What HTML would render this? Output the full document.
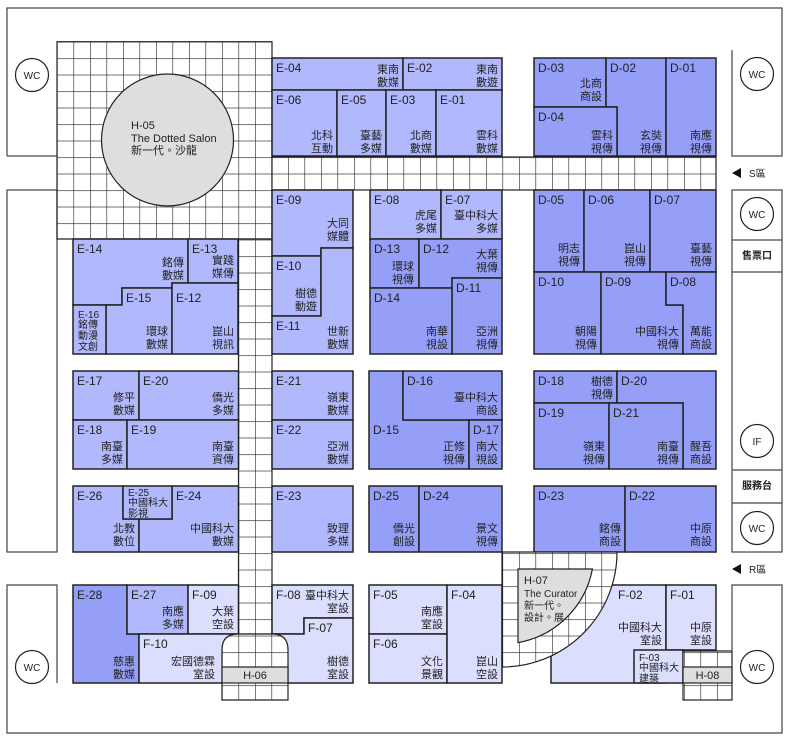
<!DOCTYPE html>
<html><head><meta charset="utf-8"><style>
html,body{margin:0;padding:0;background:#fff;}
svg{display:block;font-family:"Liberation Sans","Noto Sans CJK TC",sans-serif;}
.l{font-size:12px;fill:#222;}
.n{font-size:11px;fill:#222;text-anchor:end;}
.s{font-size:10px;fill:#222;}
.c{font-size:10px;fill:#222;text-anchor:middle;}
.E{fill:#b1b9fc;stroke:#222;stroke-width:1.5;}
.D{fill:#959ff7;stroke:#222;stroke-width:1.5;}
.F{fill:#dbdefd;stroke:#222;stroke-width:1.5;}
.w{fill:none;stroke:#444;stroke-width:1.2;}
</style></head><body>
<svg width="790" height="743" viewBox="0 0 790 743">
<defs>
<pattern id="g" patternUnits="userSpaceOnUse" x="57" y="41.7" width="16.5" height="16.5">
<rect width="16.5" height="16.5" fill="#fff"/>
<path d="M0,0H16.5M0,0V16.5" stroke="#222" stroke-width="1.2"/>
</pattern>
</defs>
<rect width="790" height="743" fill="#fff"/>
<path class="w" d="M7,156V8H782V156H732V50"/>
<rect class="w" x="7" y="190" width="50" height="362"/>
<path class="w" d="M57,683V585H7V733H782V585H732V651"/>
<rect class="w" x="732" y="190" width="50" height="362"/>
<path class="w" d="M732,240H782M732,272H782M732,470H782M732,503H782"/>
<path class="w" d="M7,156H57"/>
<path d="M57,41.7H272V190H272V239H57Z" fill="url(#g)" stroke="#222" stroke-width="1.2"/>
<rect x="272" y="157" width="444" height="33" fill="url(#g)" stroke="#222" stroke-width="1.2"/>
<rect x="238.5" y="239" width="33.5" height="395" fill="url(#g)" stroke="#222" stroke-width="1.2"/>
<circle cx="167.5" cy="140" r="66" fill="#dedede" stroke="#222" stroke-width="1.2"/>
<text class="s" x="131" y="129" style="font-size:11px">H-05</text>
<text class="s" x="131" y="142" style="font-size:11px">The Dotted Salon</text>
<text class="s" x="131" y="154" style="font-size:11px">新一代。沙龍</text>
<rect class="E" x="272" y="58" width="131" height="32"/><text class="l" x="276" y="72">E-04</text><text class="n" x="399" y="73">東南</text><text class="n" x="399" y="86">數媒</text>
<rect class="E" x="403" y="58" width="99" height="32"/><text class="l" x="407" y="72">E-02</text><text class="n" x="498" y="73">東南</text><text class="n" x="498" y="86">數遊</text>
<rect class="E" x="272" y="90" width="65" height="66"/><text class="l" x="276" y="104">E-06</text><text class="n" x="333" y="139">北科</text><text class="n" x="333" y="152">互動</text>
<rect class="E" x="337" y="90" width="49" height="66"/><text class="l" x="341" y="104">E-05</text><text class="n" x="382" y="139">臺藝</text><text class="n" x="382" y="152">多媒</text>
<rect class="E" x="386" y="90" width="50" height="66"/><text class="l" x="390" y="104">E-03</text><text class="n" x="432" y="139">北商</text><text class="n" x="432" y="152">數媒</text>
<rect class="E" x="436" y="90" width="66" height="66"/><text class="l" x="440" y="104">E-01</text><text class="n" x="498" y="139">雲科</text><text class="n" x="498" y="152">數媒</text>
<rect class="D" x="534" y="58" width="72" height="49"/><text class="l" x="538" y="72">D-03</text><text class="n" x="602" y="87">北商</text><text class="n" x="602" y="100">商設</text>
<path class="D" d="M606,58H666V156H617V107H606Z"/><text class="l" x="610" y="72">D-02</text><text class="n" x="662" y="139">玄奘</text><text class="n" x="662" y="152">視傳</text>
<rect class="D" x="666" y="58" width="50" height="98"/><text class="l" x="670" y="72">D-01</text><text class="n" x="712" y="139">南應</text><text class="n" x="712" y="152">視傳</text>
<rect class="D" x="534" y="107" width="83" height="49"/><text class="l" x="538" y="121">D-04</text><text class="n" x="613" y="139">雲科</text><text class="n" x="613" y="152">視傳</text>
<path class="E" d="M272,190H353V248H321V256H272Z"/><text class="l" x="276" y="204">E-09</text><text class="n" x="349" y="227">大同</text><text class="n" x="349" y="240">媒體</text>
<rect class="E" x="272" y="256" width="49" height="60"/><text class="l" x="276" y="270">E-10</text><text class="n" x="317" y="297">樹德</text><text class="n" x="317" y="310">動遊</text>
<path class="E" d="M321,248H353V354H272V316H321Z"/><text class="l" x="276" y="330">E-11</text><text class="n" x="349" y="335">世新</text><text class="n" x="349" y="348">數媒</text>
<path class="E" d="M73,239H188V283H172V288H122V305H73Z"/><text class="l" x="77" y="253">E-14</text><text class="n" x="184" y="266">銘傳</text><text class="n" x="184" y="279">數媒</text>
<rect class="E" x="188" y="239" width="50" height="44"/><text class="l" x="192" y="253">E-13</text><text class="n" x="234" y="264">實踐</text><text class="n" x="234" y="277">媒傳</text>
<path class="E" d="M122,288H172V354H106V305H122Z"/><text class="l" x="126" y="302">E-15</text><text class="n" x="168" y="335">環球</text><text class="n" x="168" y="348">數媒</text>
<rect class="E" x="172" y="283" width="66" height="71"/><text class="l" x="176" y="302">E-12</text><text class="n" x="234" y="335">崑山</text><text class="n" x="234" y="348">視訊</text>
<rect class="E" x="73" y="305" width="33" height="49"/><text class="s" x="78" y="318">E-16</text><text class="s" x="78" y="328">銘傳</text><text class="s" x="78" y="339">動漫</text><text class="s" x="78" y="350">文創</text>
<rect class="E" x="370" y="190" width="71" height="49"/><text class="l" x="374" y="204">E-08</text><text class="n" x="437" y="219">虎尾</text><text class="n" x="437" y="232">多媒</text>
<rect class="E" x="441" y="190" width="61" height="49"/><text class="l" x="445" y="204">E-07</text><text class="n" x="498" y="219">臺中科大</text><text class="n" x="498" y="232">多媒</text>
<rect class="D" x="370" y="239" width="49" height="49"/><text class="l" x="374" y="253">D-13</text><text class="n" x="414" y="270">環球</text><text class="n" x="414" y="283">視傳</text>
<path class="D" d="M419,239H502V278H452V288H419Z"/><text class="l" x="423" y="253">D-12</text><text class="n" x="498" y="258">大葉</text><text class="n" x="498" y="271">視傳</text>
<rect class="D" x="452" y="278" width="50" height="76"/><text class="l" x="456" y="292">D-11</text><text class="n" x="498" y="335">亞洲</text><text class="n" x="498" y="348">視傳</text>
<rect class="D" x="370" y="288" width="82" height="66"/><text class="l" x="374" y="302">D-14</text><text class="n" x="448" y="335">南華</text><text class="n" x="448" y="348">視設</text>
<rect class="D" x="534" y="190" width="50" height="82"/><text class="l" x="538" y="204">D-05</text><text class="n" x="580" y="252">明志</text><text class="n" x="580" y="265">視傳</text>
<rect class="D" x="584" y="190" width="66" height="82"/><text class="l" x="588" y="204">D-06</text><text class="n" x="646" y="252">崑山</text><text class="n" x="646" y="265">視傳</text>
<rect class="D" x="650" y="190" width="66" height="82"/><text class="l" x="654" y="204">D-07</text><text class="n" x="712" y="252">臺藝</text><text class="n" x="712" y="265">視傳</text>
<rect class="D" x="534" y="272" width="67" height="82"/><text class="l" x="538" y="286">D-10</text><text class="n" x="597" y="335">朝陽</text><text class="n" x="597" y="348">視傳</text>
<path class="D" d="M601,272H666V305H683V354H601Z"/><text class="l" x="605" y="286">D-09</text><text class="n" x="679" y="335">中國科大</text><text class="n" x="679" y="348">視傳</text>
<path class="D" d="M666,272H716V354H683V305H666Z"/><text class="l" x="670" y="286">D-08</text><text class="n" x="712" y="335">萬能</text><text class="n" x="712" y="348">商設</text>
<rect class="E" x="73" y="371" width="66" height="49"/><text class="l" x="77" y="385">E-17</text><text class="n" x="135" y="401">修平</text><text class="n" x="135" y="414">數媒</text>
<rect class="E" x="139" y="371" width="99.5" height="49"/><text class="l" x="143" y="385">E-20</text><text class="n" x="234" y="401">僑光</text><text class="n" x="234" y="414">多媒</text>
<rect class="E" x="73" y="420" width="54" height="49"/><text class="l" x="77" y="434">E-18</text><text class="n" x="123" y="450">南臺</text><text class="n" x="123" y="463">多媒</text>
<rect class="E" x="127" y="420" width="111.5" height="49"/><text class="l" x="131" y="434">E-19</text><text class="n" x="234" y="450">南臺</text><text class="n" x="234" y="463">資傳</text>
<rect class="E" x="272" y="371" width="81" height="49"/><text class="l" x="276" y="385">E-21</text><text class="n" x="349" y="401">嶺東</text><text class="n" x="349" y="414">數媒</text>
<rect class="E" x="272" y="420" width="81" height="49"/><text class="l" x="276" y="434">E-22</text><text class="n" x="349" y="450">亞洲</text><text class="n" x="349" y="463">數媒</text>
<path class="D" d="M369,371H403V420H469V469H369Z"/><text class="l" x="373" y="434">D-15</text><text class="n" x="465" y="450">正修</text><text class="n" x="465" y="463">視傳</text>
<rect class="D" x="403" y="371" width="99" height="49"/><text class="l" x="407" y="385">D-16</text><text class="n" x="498" y="401">臺中科大</text><text class="n" x="498" y="414">商設</text>
<rect class="D" x="469" y="420" width="33" height="49"/><text class="l" x="473" y="434">D-17</text><text class="n" x="498" y="450">南大</text><text class="n" x="498" y="463">視設</text>
<rect class="D" x="534" y="371" width="83" height="32"/><text class="l" x="538" y="385">D-18</text><text class="n" x="613" y="385">樹德</text><text class="n" x="613" y="398">視傳</text>
<path class="D" d="M617,371H716V469H683V403H617Z"/><text class="l" x="621" y="385">D-20</text><text class="n" x="712" y="450">醒吾</text><text class="n" x="712" y="463">商設</text>
<rect class="D" x="534" y="403" width="75" height="66"/><text class="l" x="538" y="417">D-19</text><text class="n" x="605" y="450">嶺東</text><text class="n" x="605" y="463">視傳</text>
<rect class="D" x="609" y="403" width="74" height="66"/><text class="l" x="613" y="417">D-21</text><text class="n" x="679" y="450">南臺</text><text class="n" x="679" y="463">視傳</text>
<path class="E" d="M73,486H123V519H139V552H73Z"/><text class="l" x="77" y="500">E-26</text><text class="n" x="135" y="532">北教</text><text class="n" x="135" y="545">數位</text>
<path class="E" d="M172,486H238.5V552H139V519H172Z"/><text class="l" x="176" y="500">E-24</text><text class="n" x="234" y="532">中國科大</text><text class="n" x="234" y="545">數媒</text>
<rect class="E" x="123" y="486" width="49" height="33"/><text class="s" x="128" y="496">E-25</text><text class="s" x="128" y="506">中國科大</text><text class="s" x="128" y="517">影視</text>
<rect class="E" x="272" y="486" width="81" height="66"/><text class="l" x="276" y="500">E-23</text><text class="n" x="349" y="532">致理</text><text class="n" x="349" y="545">多媒</text>
<rect class="D" x="369" y="486" width="50" height="66"/><text class="l" x="373" y="500">D-25</text><text class="n" x="415" y="532">僑光</text><text class="n" x="415" y="545">創設</text>
<rect class="D" x="419" y="486" width="83" height="66"/><text class="l" x="423" y="500">D-24</text><text class="n" x="498" y="532">景文</text><text class="n" x="498" y="545">視傳</text>
<rect class="D" x="534" y="486" width="91" height="66"/><text class="l" x="538" y="500">D-23</text><text class="n" x="621" y="532">銘傳</text><text class="n" x="621" y="545">商設</text>
<rect class="D" x="625" y="486" width="91" height="66"/><text class="l" x="629" y="500">D-22</text><text class="n" x="712" y="532">中原</text><text class="n" x="712" y="545">商設</text>
<path class="D" d="M73,585H127V634H139V683H73Z"/><text class="l" x="77" y="599">E-28</text><text class="n" x="135" y="665">慈惠</text><text class="n" x="135" y="678">數媒</text>
<rect class="E" x="127" y="585" width="61" height="49"/><text class="l" x="131" y="599">E-27</text><text class="n" x="184" y="615">南應</text><text class="n" x="184" y="628">多媒</text>
<rect class="F" x="188" y="585" width="50.5" height="49"/><text class="l" x="192" y="599">F-09</text><text class="n" x="234" y="615">大葉</text><text class="n" x="234" y="628">空設</text>
<rect class="F" x="139" y="634" width="99.5" height="49"/><text class="l" x="143" y="648">F-10</text><text class="n" x="215" y="665">宏國德霖</text><text class="n" x="215" y="678">室設</text>
<path class="F" d="M272,585H353V618H304V634H272Z"/><text class="l" x="276" y="599">F-08</text><text class="n" x="349" y="599">臺中科大</text><text class="n" x="349" y="612">室設</text>
<path class="F" d="M304,618H353V683H272V634H304Z"/><text class="l" x="308" y="632">F-07</text><text class="n" x="349" y="665">樹德</text><text class="n" x="349" y="678">室設</text>
<rect class="F" x="369" y="585" width="78" height="49"/><text class="l" x="373" y="599">F-05</text><text class="n" x="443" y="615">南應</text><text class="n" x="443" y="628">室設</text>
<rect class="F" x="369" y="634" width="78" height="49"/><text class="l" x="373" y="648">F-06</text><text class="n" x="443" y="665">文化</text><text class="n" x="443" y="678">景觀</text>
<rect class="F" x="447" y="585" width="55" height="98"/><text class="l" x="451" y="599">F-04</text><text class="n" x="498" y="665">崑山</text><text class="n" x="498" y="678">空設</text>
<rect class="F" x="551" y="585" width="115" height="98"/><text class="l" x="618" y="599">F-02</text><text class="n" x="662" y="631">中國科大</text><text class="n" x="662" y="644">室設</text>
<rect class="F" x="666" y="585" width="50" height="65"/><text class="l" x="670" y="599">F-01</text><text class="n" x="712" y="631">中原</text><text class="n" x="712" y="644">室設</text>
<rect class="F" x="634" y="650" width="49" height="33"/><text class="s" x="639" y="661">F-03</text><text class="s" x="639" y="671">中國科大</text><text class="s" x="639" y="682">建築</text>
<path d="M222,700V650Q222,634 238,634H272Q288,634 288,650V700Z" fill="url(#g)" stroke="#222" stroke-width="1.2"/>
<rect x="222" y="667" width="66" height="16" fill="#dedede" stroke="#222" stroke-width="1.2"/>
<text class="c" x="255" y="679" style="font-size:11px">H-06</text>
<path d="M502,552H617A115,115 0 0 1 502,667Z" fill="url(#g)" stroke="#222" stroke-width="1.2"/>
<path d="M518,569H592.4A92,92 0 0 1 518,642.6Z" fill="#dedede" stroke="#222" stroke-width="1.2"/>
<text class="s" x="524" y="584" style="font-size:11px">H-07</text>
<text class="s" x="524" y="597">The Curator</text>
<text class="s" x="524" y="609">新一代。</text>
<text class="s" x="524" y="621">設計。展</text>
<rect x="683" y="651" width="49" height="49" fill="url(#g)" stroke="#222" stroke-width="1.2"/>
<rect x="683" y="667" width="49" height="16" fill="#dedede" stroke="#222" stroke-width="1.2"/>
<text class="c" x="707.5" y="679" style="font-size:11px">H-08</text>
<g fill="#fff" stroke="#222" stroke-width="1.2">
<circle cx="32" cy="75" r="16.5"/><circle cx="32" cy="667" r="16.5"/>
<circle cx="757" cy="74" r="16.5"/><circle cx="757" cy="214" r="16.5"/>
<circle cx="757" cy="441" r="16.5"/><circle cx="757" cy="528" r="16.5"/><circle cx="757" cy="667" r="16.5"/>
</g>
<text class="c" x="32" y="79">WC</text><text class="c" x="32" y="671">WC</text>
<text class="c" x="757" y="78">WC</text><text class="c" x="757" y="218">WC</text>
<text class="c" x="757" y="445">IF</text><text class="c" x="757" y="532">WC</text><text class="c" x="757" y="671">WC</text>
<text class="c" x="757" y="259" style="font-weight:bold">售票口</text>
<text class="c" x="757" y="489" style="font-weight:bold">服務台</text>
<polygon points="732,173 741,168 741,178" fill="#111"/><text class="s" x="749" y="177">S區</text>
<polygon points="732,569 741,564 741,574" fill="#111"/><text class="s" x="749" y="573">R區</text>
</svg>
</body></html>
